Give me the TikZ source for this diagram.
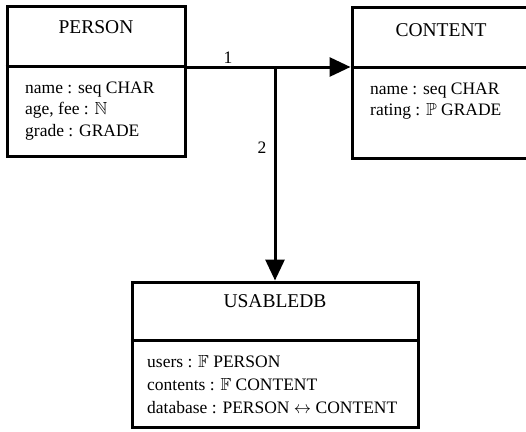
\documentclass[tikz,border=0pt]{standalone}
\usepackage{amssymb}
\usepackage{fontspec}
\setmainfont{Liberation Serif}
\usetikzlibrary{arrows.meta}
\tikzset{
  classbox/.style={draw, line width=3pt, inner sep=0pt},
  divider/.style={line width=3pt},
  title/.style={font=\fontsize{19.5}{22}\selectfont, anchor=base, inner sep=0pt},
  attrs/.style={font=\fontsize{17.5}{21}\selectfont, anchor=base west, align=left, inner sep=0pt},
  link/.style={line width=3pt, -{Triangle[length=21pt,width=19pt]}},
  mult/.style={font=\fontsize{17.5}{21}\selectfont, inner sep=0pt}
}
\begin{document}
\begin{tikzpicture}[x=1pt,y=-1pt]
            \useasboundingbox (0,0) rectangle (526,431);
            % classes
            \node[classbox, minimum width=178, minimum height=150] (person) at (96,81) {};
            \node[classbox, minimum width=180, minimum height=151] (content) at (442,82.5) {};
            \node[classbox, minimum width=286, minimum height=145] (usable) at (275,354.5) {};
            \draw[divider] (person.west |- 0,66) -- (person.east |- 0,66);
            \draw[divider] (content.west |- 0,67) -- (content.east |- 0,67);
            \draw[divider] (usable.west |- 0,340) -- (usable.east |- 0,340);
            % names
            \node[title] (persontitle) at (96,33) {PERSON};
            \node[title] (contenttitle) at (441,36) {CONTENT};
            \node[title] (usabletitle) at (275,307) {USABLEDB};
            % attributes (base = last line)
            \node[attrs] (personattrs) at (25,136) {name : seq CHAR\\age, fee : $\mathbb{N}$\\[1pt]grade : GRADE};
            \node[attrs] (contentattrs) at (370,115) {name : seq CHAR\\rating : $\mathbb{P}$ GRADE};
            \node[attrs, font=\fontsize{17.5}{23}\selectfont] (usableattrs) at (147,413) {users : $\mathbb{F}$ PERSON\\contents : $\mathbb{F}$ CONTENT\\database : PERSON $\leftrightarrow$ CONTENT};
            % links
            \coordinate (junction) at (275,67);
            \draw[link] (person.east |- junction) -- (content.west |- junction);
            \draw[link] (junction) -- (usable.north);
            \node[mult] (one) at (228,58) {1};
            \node[mult] (two) at (262,148) {2};
            \end{tikzpicture}
\end{document}
